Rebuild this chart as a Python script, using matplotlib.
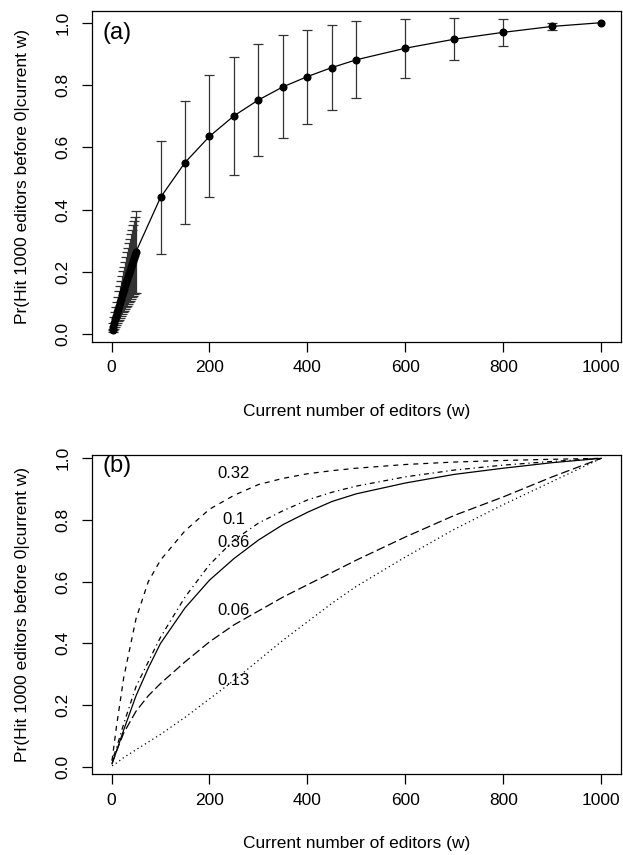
import numpy as np
import matplotlib
matplotlib.use("Agg")
import matplotlib.pyplot as plt

plt.rcParams['font.family'] = ['Liberation Sans', 'DejaVu Sans']

# --- Panel (a): mean probability with +/- sd error bars ---
w_a = [2, 4, 6, 8, 10, 12, 14, 16, 18, 20, 22, 24, 26, 28, 30, 32, 34, 36, 38, 40,
       42, 44, 46, 48, 50, 100, 150, 200, 250, 300, 350, 400, 450, 500,
       600, 700, 800, 900, 1000]
mean_a = [0.012, 0.024, 0.036, 0.048, 0.059, 0.070, 0.081, 0.092, 0.103, 0.114,
          0.125, 0.136, 0.146, 0.157, 0.167, 0.177, 0.187, 0.197, 0.207, 0.217,
          0.226, 0.236, 0.245, 0.255, 0.265, 0.439, 0.551, 0.635, 0.701, 0.752,
          0.794, 0.827, 0.856, 0.881, 0.918, 0.947, 0.969, 0.988, 1.000]
sd_a = [0.006, 0.012, 0.018, 0.024, 0.029, 0.035, 0.040, 0.046, 0.051, 0.056,
        0.061, 0.066, 0.071, 0.076, 0.081, 0.086, 0.090, 0.095, 0.099, 0.104,
        0.108, 0.113, 0.117, 0.122, 0.132, 0.181, 0.196, 0.196, 0.189, 0.179,
        0.165, 0.151, 0.137, 0.123, 0.094, 0.067, 0.043, 0.011, 0.0]

# --- Panel (b): curves for different parameter values ---
w_b = [1, 10, 25, 50, 75, 100, 150, 200, 250, 300, 350, 400, 450, 500,
       600, 700, 800, 900, 1000]
p_032 = [0.02, 0.13, 0.29, 0.48, 0.60, 0.67, 0.765, 0.835, 0.88, 0.915, 0.935,
         0.95, 0.96, 0.968, 0.98, 0.988, 0.993, 0.997, 1.0]
p_010 = [0.02, 0.06, 0.14, 0.26, 0.34, 0.42, 0.55, 0.655, 0.735, 0.79, 0.83,
         0.865, 0.89, 0.91, 0.94, 0.962, 0.978, 0.99, 1.0]
p_036 = [0.01, 0.05, 0.12, 0.23, 0.32, 0.40, 0.515, 0.605, 0.675, 0.735, 0.785,
         0.825, 0.86, 0.885, 0.92, 0.948, 0.968, 0.986, 1.0]
p_006 = [0.01, 0.05, 0.11, 0.18, 0.23, 0.27, 0.34, 0.405, 0.46, 0.505, 0.55,
         0.59, 0.63, 0.67, 0.745, 0.815, 0.875, 0.94, 1.0]
p_013 = [0.003, 0.012, 0.03, 0.055, 0.08, 0.105, 0.16, 0.22, 0.28, 0.345, 0.41,
         0.47, 0.53, 0.585, 0.68, 0.77, 0.85, 0.925, 1.0]
curve_labels = ["0.32", "0.1", "0.36", "0.06", "0.13"]
label_y = [0.952, 0.803, 0.727, 0.508, 0.281]

fig = plt.figure(figsize=(6.23, 8.55), dpi=100)
ax1 = fig.add_axes([0.1472, 0.600, 0.8493, 0.3875])
ax2 = fig.add_axes([0.1472, 0.0942, 0.8493, 0.3737])

w_a = np.array(w_a); mean_a = np.array(mean_a); sd_a = np.array(sd_a)
has_err = sd_a > 0
ax1.errorbar(w_a[has_err], mean_a[has_err], yerr=sd_a[has_err], fmt='none',
             ecolor='#333333', elinewidth=0.9, capsize=3.3, capthick=0.9)
ax1.plot(w_a, mean_a, color='k', lw=0.9, marker='o', ms=4.8)
ax1.set_ylim(-0.025, 1.0385)
ax1.text(12, 0.967, "(a)", fontsize=17, ha='center', va='center')

styles = [(0, (4, 4)), (0, (1, 3, 4, 3)), '-', (0, (7, 3)), (0, (1, 2.5))]
for vals, ls in zip([p_032, p_010, p_036, p_006, p_013], styles):
    ax2.plot(w_b, vals, color='k', lw=0.9, linestyle=ls)
for lab, y in zip(curve_labels, label_y):
    ax2.text(250, y, lab, fontsize=12, ha='center', va='center')
ax2.set_ylim(-0.025, 1.011)
ax2.text(12, 0.975, "(b)", fontsize=17, ha='center', va='center')

for ax in (ax1, ax2):
    ax.set_xlim(-40.5, 1040)
    ax.set_xticks([0, 200, 400, 600, 800, 1000])
    ax.set_yticks([0.0, 0.2, 0.4, 0.6, 0.8, 1.0])
    ax.set_yticklabels(["0.0", "0.2", "0.4", "0.6", "0.8", "1.0"], rotation=90, va='center')
    ax.tick_params(direction='out', length=7, width=0.9, labelsize=12.5)
    ax.tick_params(axis='x', pad=6)
    ax.tick_params(axis='y', pad=8)
    for s in ax.spines.values():
        s.set_linewidth(0.9)
    ax.set_xlabel("Current number of editors (w)", fontsize=12.5, va='center')
    ax.set_ylabel("Pr(Hit 1000 editors before 0|current w)", fontsize=12.5, va='center')
    h = ax.get_window_extent().height
    wd = ax.get_window_extent().width
    ax.xaxis.set_label_coords(0.5, -69 / h)
    ax.yaxis.set_label_coords(-69 / wd, 0.5)

fig.savefig("out.png", dpi=100)
